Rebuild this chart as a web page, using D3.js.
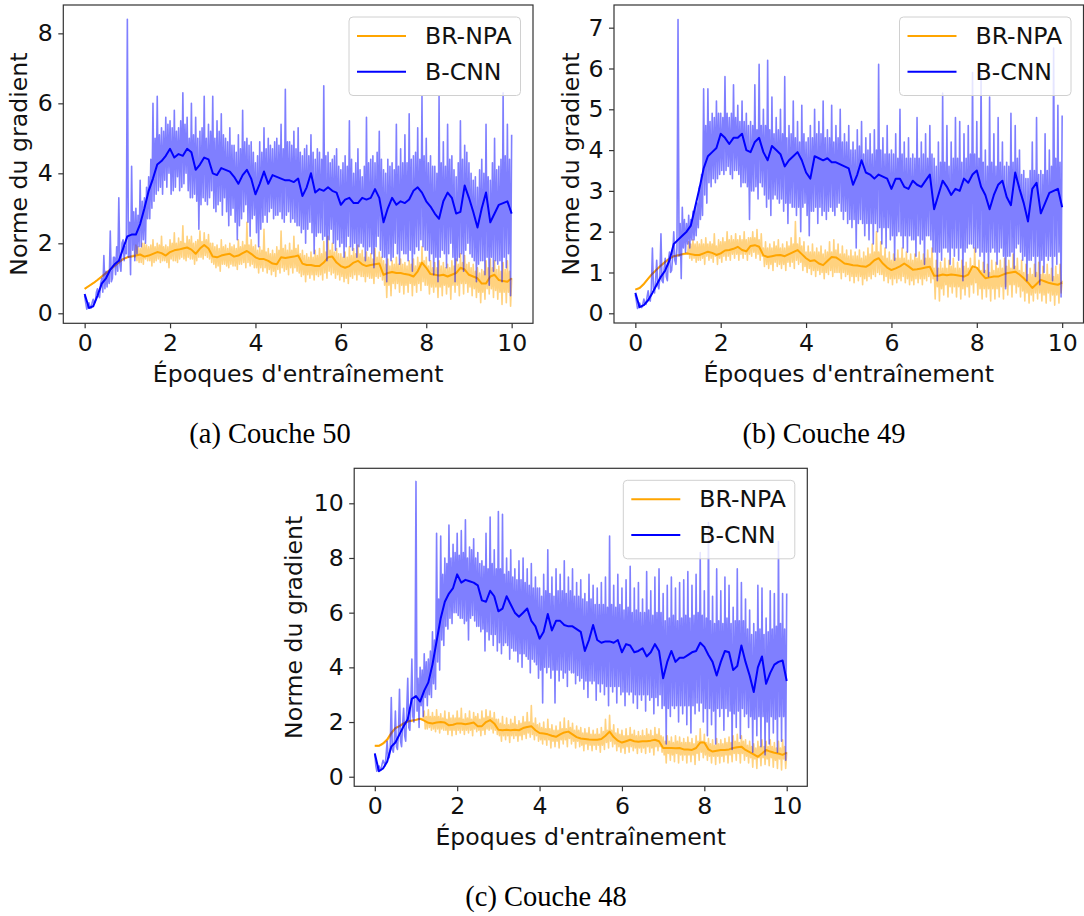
<!DOCTYPE html>
<html><head><meta charset="utf-8">
<script src="https://cdn.jsdelivr.net/npm/d3@7/dist/d3.min.js"></script>
<style>body{margin:0;background:#fff} svg{display:block}</style>
</head><body>
<svg id="chart" width="1084" height="916"></svg>
<script>
// ---------- tick labels / text ----------
const xTicks = [0, 2, 4, 6, 8, 10];
const yTicksA = [0, 2, 4, 6, 8];
const yTicksB = [0, 1, 2, 3, 4, 5, 6, 7];
const yTicksC = [0, 2, 4, 6, 8, 10];
const seriesNames = ["BR-NPA", "B-CNN"];
const captions = ["(a) Couche 50", "(b) Couche 49", "(c) Couche 48"];
const xLabel = "Époques d'entraînement";
const yLabel = "Norme du gradient";

// ---------- Panel (a) : Couche 50 (raw: 401 samples over 10 epochs, smoothed: 101) ----------
const rawBRNPA_a = [
 0.7,0.72,0.74,0.76,0.78,0.8,0.82,0.84,0.86,0.88,0.9,0.93,0.95,0.98,1.0,1.03,1.05,1.08,1.1,1.13,
 1.15,1.18,1.2,1.23,1.25,1.28,1.3,1.33,1.35,1.38,1.4,1.43,1.45,1.48,1.5,1.53,1.55,1.57,1.58,1.59,
 1.6,1.61,1.62,1.63,1.64,1.65,1.66,1.6,1.95,1.5,1.9,1.45,1.85,1.45,2.0,1.4,2.0,1.55,1.95,1.5,
 1.9,1.5,1.95,1.35,2.1,1.45,1.9,1.5,2.0,1.55,1.95,1.45,2.2,1.5,1.9,1.5,1.95,1.45,1.9,1.3,
 2.1,1.55,2.0,1.5,2.3,1.5,2.0,1.45,2.15,1.55,2.05,1.6,2.5,1.55,2.0,1.5,2.2,1.6,2.1,1.55,
 2.2,1.55,2.0,1.4,2.05,1.5,2.1,1.6,2.35,1.6,2.05,1.55,2.3,1.65,2.1,1.6,2.25,1.55,2.0,1.45,
 2.0,1.4,1.9,1.3,1.95,1.35,1.85,1.2,2.1,1.4,1.9,1.4,1.95,1.35,1.85,1.3,2.0,1.4,1.9,1.35,
 1.95,1.35,1.85,1.25,2.1,1.4,1.9,1.4,2.05,1.45,1.95,1.3,2.6,1.45,1.95,1.35,2.1,1.4,1.9,1.3,
 1.95,1.3,1.8,1.15,1.9,1.3,1.8,1.2,2.4,1.3,1.75,1.15,1.85,1.25,1.7,1.1,1.8,1.2,1.7,1.05,
 1.9,1.25,1.8,1.15,2.35,1.3,1.85,1.2,1.95,1.25,1.8,1.1,2.0,1.3,1.8,1.15,2.2,1.3,1.85,1.2,
 1.95,1.15,1.7,1.05,1.8,1.1,1.65,0.9,1.7,1.1,1.6,1.0,1.75,1.1,1.6,0.95,1.8,1.1,1.65,1.05,
 1.85,1.1,1.7,0.95,2.05,1.15,1.75,1.0,2.2,1.2,1.8,1.1,2.0,1.15,1.75,1.0,1.85,1.1,1.7,0.95,
 1.7,1.05,1.6,0.9,1.75,1.0,1.6,0.85,1.9,1.05,1.65,1.0,1.85,1.1,1.7,0.95,1.95,1.1,1.7,1.05,
 1.8,1.05,1.6,0.9,1.75,1.05,1.6,1.0,1.7,1.0,1.55,0.85,1.85,1.05,1.6,1.0,1.75,1.05,1.6,0.95,
 1.5,0.8,1.4,0.45,1.55,0.8,1.35,0.5,1.5,0.85,1.4,0.7,1.6,0.85,1.4,0.6,1.55,0.8,1.4,0.55,
 1.45,0.8,1.35,0.6,1.5,0.85,1.4,0.5,1.55,0.8,1.35,0.6,1.6,0.85,1.45,0.65,1.9,0.9,1.5,0.8,
 1.6,0.8,1.35,0.55,1.5,0.75,1.3,0.6,1.45,0.75,1.3,0.45,1.5,0.75,1.35,0.5,1.45,0.8,1.3,0.55,
 1.4,0.75,1.3,0.4,1.5,0.8,1.35,0.6,1.55,0.8,1.4,0.5,1.7,0.85,1.45,0.55,1.65,0.85,1.4,0.6,
 1.45,0.75,1.3,0.5,1.4,0.7,1.2,0.45,1.3,0.6,1.15,0.3,1.25,0.6,1.2,0.4,1.5,0.7,1.3,0.55,
 1.55,0.7,1.3,0.45,1.5,0.65,1.25,0.4,1.35,0.6,1.2,0.25,1.45,0.6,1.25,0.3,1.5,0.6,1.2,0.2,
 1.0];
const smoothBRNPA_a = [0.7,0.78,0.86,0.95,1.05,1.15,1.25,1.35,1.45,1.55,
 1.6,1.62,1.65,1.68,1.62,1.65,1.7,1.75,1.72,1.65,
 1.75,1.8,1.82,1.85,1.88,1.82,1.7,1.85,1.95,1.85,
 1.62,1.6,1.65,1.68,1.7,1.62,1.65,1.72,1.78,1.7,
 1.6,1.55,1.55,1.5,1.42,1.4,1.6,1.58,1.6,1.62,
 1.65,1.42,1.38,1.38,1.35,1.35,1.45,1.6,1.62,1.45,
 1.35,1.3,1.35,1.45,1.5,1.4,1.35,1.38,1.4,1.42,
 1.1,1.15,1.18,1.15,1.15,1.12,1.1,1.05,1.2,1.45,
 1.3,1.12,1.1,1.08,1.1,1.05,1.1,1.15,1.3,1.25,
 1.1,1.05,1.0,0.85,0.85,1.05,1.1,0.95,0.92,0.9,
 1.0];
const rawBCNN_a = [
 0.5,0.3,0.12,0.18,0.3,0.2,0.15,0.3,0.4,0.28,0.35,0.6,0.7,0.5,0.45,0.85,1.0,0.6,1.65,0.7,
 1.2,0.75,1.2,0.85,2.35,0.9,1.0,1.6,1.6,1.1,1.9,1.2,3.3,1.4,1.2,2.0,2.1,1.5,1.9,1.7,
 8.4,1.6,2.6,1.1,4.2,1.8,2.9,1.5,3.0,1.7,2.8,1.9,3.8,1.9,3.2,2.1,3.3,2.0,3.6,2.7,
 3.9,2.7,4.4,3.0,6.0,3.2,5.0,3.4,6.2,3.5,5.1,3.6,5.3,3.4,5.2,3.8,5.6,3.6,5.4,4.0,
 5.5,3.4,5.3,3.5,5.8,3.6,5.2,3.9,5.3,3.5,5.5,3.6,6.3,3.7,5.4,4.0,5.6,3.5,5.0,3.3,
 6.0,3.3,5.1,3.4,5.6,3.2,5.0,2.4,5.2,3.1,5.3,3.3,6.2,3.2,5.0,3.1,5.4,3.3,5.2,3.5,
 6.2,3.0,5.0,2.9,5.5,3.1,5.2,3.2,5.7,2.8,5.1,3.3,5.0,2.9,4.9,2.5,5.3,2.8,4.8,3.0,
 4.8,2.6,4.6,2.1,5.1,2.5,4.7,2.7,5.8,2.9,4.9,3.1,5.0,2.6,4.8,2.2,4.9,2.7,4.6,2.8,
 4.3,2.3,4.5,1.9,4.9,2.4,4.6,2.6,5.3,2.8,4.7,2.6,5.0,2.9,4.8,3.0,4.7,2.7,4.9,2.8,
 5.0,2.8,4.8,2.9,5.4,2.7,4.7,2.6,6.4,2.8,4.9,2.9,4.9,2.6,4.8,2.7,5.2,2.6,4.7,2.5,
 5.3,2.5,4.6,2.3,4.5,2.4,4.7,2.0,4.8,2.4,4.5,2.6,5.1,2.3,4.6,1.7,4.4,2.2,4.7,2.3,
 4.6,2.3,4.4,2.1,6.5,2.2,4.5,1.5,4.6,2.1,4.3,2.4,4.4,2.0,4.5,1.8,4.7,2.1,4.2,1.9,
 4.1,2.0,4.3,1.6,4.5,1.9,4.2,2.2,5.5,1.9,4.4,1.8,4.0,2.0,4.3,1.6,4.7,1.9,4.1,2.0,
 3.9,1.9,4.2,1.5,5.6,1.8,4.3,1.9,4.4,1.7,4.5,1.3,4.3,1.9,4.6,2.2,5.2,1.8,4.4,1.6,
 4.1,1.6,4.0,0.9,4.4,1.7,4.2,1.5,4.3,1.6,4.1,2.0,5.4,1.7,4.2,1.4,4.7,1.8,4.3,1.7,
 5.1,1.7,4.3,1.5,5.7,1.8,4.4,1.2,4.5,1.7,4.6,1.9,5.3,1.8,4.4,2.1,6.2,1.9,4.5,1.8,
 5.0,1.8,4.3,1.5,4.5,1.7,4.2,1.1,4.2,1.6,4.0,0.9,6.2,1.6,4.3,1.8,4.9,1.7,4.2,1.3,
 5.4,1.7,4.4,2.0,4.5,1.6,4.1,0.9,3.9,1.5,4.3,1.6,5.5,1.7,4.4,1.2,4.8,1.8,4.6,2.0,
 4.3,1.7,4.0,1.6,3.8,1.5,3.9,0.9,3.6,1.4,4.1,1.5,4.4,1.5,4.0,1.1,5.4,1.6,3.9,0.8,
 3.8,1.6,4.3,1.2,5.0,1.5,4.1,1.4,4.2,1.5,4.4,0.9,6.3,1.6,4.5,1.3,5.4,1.7,4.4,0.5,
 5.1];
const smoothBCNN_a = [0.55,0.15,0.2,0.5,0.85,1.0,1.25,1.4,1.5,1.85,
 2.2,2.25,2.25,2.55,3.0,3.5,3.85,4.25,4.35,4.5,
 4.7,4.45,4.55,4.5,4.7,4.6,4.1,4.25,4.45,4.4,
 4.0,3.95,4.15,4.1,4.05,3.9,3.7,3.95,4.1,3.85,
 3.4,3.7,4.05,3.7,3.95,3.9,3.85,3.8,3.8,3.75,
 3.85,3.35,3.6,4.0,3.45,3.55,3.5,3.6,3.5,3.45,
 3.1,3.25,3.3,3.15,3.15,3.3,3.25,3.3,3.55,3.3,
 2.6,3.0,3.3,3.1,3.2,3.15,3.25,3.5,3.6,3.45,
 3.2,3.05,2.85,2.7,3.2,3.45,3.3,2.85,2.9,3.65,
 3.3,2.9,2.45,3.0,3.45,2.6,2.85,3.1,3.15,3.2,
 2.85];

// ---------- Panel (b) : Couche 49 ----------
const rawBRNPA_b = [
 0.58,0.59,0.6,0.61,0.62,0.64,0.67,0.7,0.72,0.75,0.78,0.81,0.85,0.88,0.91,0.94,0.97,1.0,1.02,1.05,
 1.07,1.1,1.12,1.15,1.17,1.2,1.22,1.24,1.26,1.28,1.3,1.32,1.34,1.36,1.37,1.39,1.4,1.4,1.41,1.41,
 1.42,1.42,1.43,1.43,1.44,1.44,1.45,1.45,1.46,1.45,1.75,1.35,1.7,1.3,1.8,1.35,1.7,1.25,1.75,1.3,
 1.7,1.3,1.8,1.35,1.7,1.2,1.85,1.4,1.7,1.3,1.75,1.35,1.7,1.25,1.95,1.4,1.65,1.2,1.8,1.35,
 1.75,1.25,1.85,1.4,1.75,1.3,2.0,1.4,1.8,1.3,1.9,1.45,1.8,1.35,1.95,1.45,1.8,1.3,1.9,1.45,
 1.8,1.35,2.0,1.45,1.8,1.3,1.85,1.45,1.85,1.4,2.0,1.5,1.85,1.35,2.05,1.45,1.8,1.3,1.95,1.4,
 1.6,1.15,1.75,1.2,1.6,1.1,1.7,1.2,1.6,1.05,1.75,1.25,1.65,1.15,1.8,1.2,1.6,1.1,1.7,1.2,
 1.6,1.05,1.75,1.25,1.65,1.15,1.85,1.25,1.7,1.1,2.25,1.3,1.7,1.2,1.85,1.25,1.65,1.05,1.75,1.15,
 1.5,1.0,1.65,1.1,1.5,0.95,1.7,1.05,1.5,0.9,1.6,1.05,1.5,0.95,1.65,1.0,1.45,0.85,1.55,1.0,
 1.5,0.95,1.75,1.05,1.5,0.9,1.8,1.0,1.55,1.0,1.7,1.0,1.45,0.85,1.65,1.0,1.45,0.9,1.55,0.95,
 1.4,0.8,1.55,0.9,1.4,0.75,1.5,0.9,1.4,0.8,1.55,0.9,1.35,0.7,1.5,0.85,1.4,0.8,1.6,0.9,
 1.45,0.85,1.7,0.95,1.5,0.9,2.0,1.0,1.5,0.95,1.75,0.95,1.4,0.8,1.6,0.9,1.35,0.75,1.5,0.85,
 1.3,0.7,1.45,0.85,1.35,0.75,1.55,0.85,1.35,0.8,1.6,0.9,1.35,0.75,1.5,0.85,1.3,0.7,1.45,0.8,
 1.3,0.7,1.45,0.85,1.35,0.75,1.5,0.85,1.3,0.7,1.45,0.85,1.35,0.8,1.55,0.9,1.35,0.75,1.6,0.85,
 1.1,0.35,1.3,0.65,1.1,0.3,1.25,0.6,1.1,0.45,1.35,0.7,1.1,0.4,1.3,0.65,1.15,0.5,1.35,0.65,
 1.1,0.4,1.25,0.65,1.1,0.35,1.3,0.6,1.15,0.45,1.25,0.65,1.1,0.4,1.35,0.7,1.15,0.5,1.6,0.75,
 1.1,0.45,1.3,0.6,1.05,0.35,1.25,0.6,1.05,0.4,1.2,0.6,1.0,0.3,1.3,0.6,1.05,0.35,1.25,0.6,
 1.1,0.4,1.3,0.65,1.1,0.35,1.35,0.65,1.15,0.45,1.3,0.7,1.1,0.4,1.45,0.7,1.15,0.5,1.35,0.65,
 1.05,0.4,1.3,0.55,1.0,0.3,1.2,0.5,0.95,0.25,1.1,0.45,0.95,0.3,1.2,0.5,1.0,0.35,1.25,0.5,
 0.95,0.3,1.15,0.45,0.95,0.25,1.2,0.5,0.95,0.3,1.1,0.45,0.9,0.2,1.15,0.45,0.95,0.25,1.2,0.5,
 0.8];
const smoothBRNPA_b = [0.58,0.62,0.72,0.85,0.97,1.07,1.17,1.26,1.34,1.4,
 1.42,1.45,1.47,1.45,1.43,1.43,1.47,1.51,1.48,1.43,
 1.47,1.54,1.55,1.58,1.63,1.55,1.52,1.65,1.67,1.63,
 1.42,1.38,1.4,1.42,1.43,1.4,1.45,1.5,1.55,1.45,
 1.35,1.28,1.3,1.22,1.18,1.28,1.38,1.37,1.3,1.22,
 1.2,1.18,1.17,1.15,1.14,1.2,1.3,1.35,1.22,1.12,
 1.06,1.1,1.15,1.22,1.15,1.07,1.08,1.1,1.12,1.14,
 0.92,0.92,0.95,0.93,0.95,0.94,0.92,0.9,0.95,1.15,
 1.12,0.98,0.86,0.88,0.9,0.9,0.94,0.98,1.0,1.02,
 0.95,0.86,0.75,0.62,0.72,0.82,0.78,0.74,0.72,0.7,
 0.75];
const rawBCNN_b = [
 0.45,0.3,0.12,0.15,0.25,0.18,0.14,0.22,0.35,0.25,0.22,0.4,0.55,0.35,0.3,0.6,1.6,0.6,0.5,0.8,
 1.3,0.7,0.6,0.9,1.95,0.8,0.75,1.1,1.35,0.9,0.8,1.3,1.5,1.0,1.05,1.4,2.0,1.3,1.2,1.6,
 7.2,1.4,2.2,0.85,2.6,1.6,2.3,1.5,2.2,1.7,2.4,1.6,2.3,1.8,2.5,1.8,2.6,1.9,2.7,2.1,
 3.1,2.3,3.4,2.4,5.5,2.9,4.6,2.7,5.5,3.2,4.7,3.1,4.9,3.3,4.8,3.2,5.2,3.3,4.9,3.4,
 4.9,3.5,4.8,3.4,5.8,3.5,4.9,3.6,4.8,3.4,4.9,3.3,5.6,3.5,4.8,3.5,5.1,3.4,4.7,3.1,
 5.2,3.2,4.7,3.2,4.9,3.1,4.6,2.3,4.7,3.0,4.6,3.0,5.6,3.1,4.5,2.8,6.1,3.2,4.6,3.1,
 5.0,2.9,4.6,2.6,6.2,2.8,4.5,2.4,5.3,2.8,4.4,2.9,4.8,2.8,4.5,2.7,5.0,2.8,4.4,2.5,
 5.8,2.7,4.3,2.2,4.6,2.7,4.4,2.6,5.2,2.6,4.3,2.4,4.7,2.6,4.2,2.0,5.1,2.6,4.4,2.7,
 4.2,2.4,4.3,1.9,4.6,2.5,4.3,2.5,5.0,2.6,4.4,2.2,4.7,2.6,4.4,2.4,5.2,2.5,4.3,2.3,
 4.5,2.5,4.3,2.6,5.1,2.5,4.2,2.4,4.6,2.6,4.3,2.7,5.0,2.5,4.2,2.3,4.4,2.5,4.2,2.2,
 4.6,2.3,4.0,2.1,4.2,2.3,4.0,1.6,4.5,2.2,4.1,2.3,4.7,2.2,3.9,1.9,4.3,2.2,4.0,1.8,
 4.4,2.2,3.9,1.7,4.5,2.2,4.0,2.0,6.1,2.1,4.0,1.7,4.3,2.1,3.9,1.6,4.6,2.1,3.9,1.8,
 4.0,1.9,3.9,1.3,4.4,1.9,3.8,2.0,5.0,1.9,3.9,1.6,4.2,1.9,3.8,1.5,4.3,1.9,3.8,1.8,
 3.9,1.8,3.8,1.4,4.8,1.9,3.8,1.7,4.2,1.8,3.9,1.2,4.4,1.9,3.8,1.9,4.6,1.8,3.9,1.5,
 3.8,1.5,3.6,0.8,4.2,1.5,3.7,1.3,5.4,1.6,3.7,1.6,4.6,1.5,3.6,1.2,4.2,1.6,3.8,1.4,
 4.8,1.6,3.8,1.3,4.7,1.6,3.7,0.8,4.4,1.5,3.8,1.6,4.6,1.7,3.9,1.7,5.9,1.6,3.9,1.5,
 4.7,1.6,3.8,1.4,5.85,1.5,3.7,1.0,4.0,1.5,3.6,0.9,5.3,1.5,3.7,1.6,4.4,1.5,3.6,1.2,
 4.8,1.5,3.7,1.6,4.2,1.4,3.6,0.6,3.7,1.4,3.6,1.4,4.9,1.5,3.7,1.1,4.6,1.6,3.8,1.7,
 4.0,1.5,3.4,1.3,3.5,1.4,3.3,0.8,3.3,1.3,3.5,1.3,4.2,1.4,3.5,0.9,4.8,1.4,3.4,0.7,
 3.5,1.3,3.4,1.0,4.4,1.4,3.5,1.3,4.0,1.4,3.6,0.8,6.5,1.4,3.8,1.2,5.1,1.5,3.7,0.4,
 4.85];
const smoothBCNN_b = [0.5,0.15,0.2,0.32,0.5,0.7,0.9,1.05,1.3,1.7,
 1.8,1.9,2.0,2.15,2.6,3.05,3.55,3.85,3.95,4.05,
 4.4,4.3,4.15,4.3,4.3,4.4,4.0,3.95,4.2,4.3,
 3.95,3.75,4.1,4.0,3.9,3.6,3.75,3.85,3.95,3.75,
 3.45,3.3,3.85,3.8,3.75,3.8,3.7,3.7,3.65,3.6,
 3.55,3.15,3.4,3.75,3.45,3.4,3.3,3.4,3.35,3.3,
 3.05,3.3,3.3,3.1,3.05,3.25,3.15,3.1,3.25,3.4,
 2.55,2.9,3.25,3.1,2.9,3.05,3.0,3.3,3.2,3.4,
 3.5,3.1,2.9,2.55,2.9,3.15,3.25,2.85,2.65,3.45,
 3.05,2.7,2.25,3.05,3.2,2.45,2.7,2.95,3.0,3.05,
 2.6];

// ---------- Panel (c) : Couche 48 ----------
const rawBRNPA_c = [
 1.13,1.13,1.12,1.12,1.13,1.14,1.15,1.17,1.2,1.22,1.25,1.29,1.33,1.37,1.42,1.48,1.55,1.61,1.68,1.73,
 1.78,1.8,1.82,1.84,1.86,1.88,1.9,1.93,1.95,1.97,1.98,2.0,2.02,2.04,2.05,2.06,2.06,2.07,2.07,2.08,
 2.08,2.09,2.1,2.11,2.12,2.12,2.13,2.1,2.4,1.75,2.2,1.75,2.45,1.8,2.2,1.7,2.35,1.75,2.2,1.65,
 2.45,1.75,2.2,1.6,2.3,1.75,2.15,1.7,2.4,1.7,2.1,1.55,2.35,1.7,2.15,1.5,2.25,1.7,2.15,1.55,
 2.4,1.7,2.15,1.6,2.5,1.7,2.1,1.55,2.3,1.7,2.15,1.6,2.4,1.7,2.1,1.5,2.35,1.75,2.2,1.65,
 2.3,1.7,2.1,1.5,2.4,1.7,2.15,1.55,2.45,1.75,2.2,1.7,2.4,1.75,2.15,1.6,2.35,1.7,2.1,1.55,
 2.1,1.5,1.95,1.3,2.2,1.5,1.9,1.35,2.15,1.5,1.9,1.25,2.1,1.5,1.95,1.4,2.2,1.5,1.9,1.3,
 2.05,1.5,1.95,1.35,2.2,1.55,2.0,1.4,2.35,1.6,2.0,1.45,2.6,1.55,1.95,1.35,2.15,1.5,1.9,1.3,
 1.95,1.35,1.8,1.2,2.0,1.35,1.75,1.15,2.1,1.35,1.75,1.05,1.9,1.3,1.7,1.1,1.85,1.3,1.7,1.05,
 2.0,1.35,1.75,1.2,2.15,1.35,1.75,1.1,2.05,1.4,1.8,1.2,1.95,1.3,1.7,1.05,1.85,1.3,1.7,1.1,
 1.8,1.15,1.6,0.95,1.75,1.2,1.6,1.0,1.8,1.15,1.55,0.95,1.7,1.15,1.55,1.0,1.75,1.15,1.55,0.9,
 1.8,1.15,1.65,1.0,2.1,1.25,1.7,1.05,2.25,1.3,1.7,1.1,1.9,1.2,1.6,0.95,1.75,1.1,1.55,0.9,
 1.7,1.05,1.5,0.85,1.75,1.1,1.5,0.9,1.8,1.1,1.55,0.95,1.7,1.05,1.5,0.85,1.65,1.05,1.5,0.9,
 1.7,1.05,1.5,0.85,1.75,1.1,1.55,0.9,1.7,1.05,1.5,0.8,1.8,1.1,1.55,0.95,1.75,1.1,1.5,0.9,
 1.45,0.8,1.3,0.5,1.5,0.85,1.3,0.6,1.45,0.8,1.25,0.55,1.5,0.85,1.3,0.5,1.45,0.8,1.25,0.6,
 1.4,0.8,1.25,0.5,1.45,0.8,1.25,0.55,1.4,0.8,1.2,0.45,1.5,0.85,1.3,0.6,1.75,0.9,1.3,0.7,
 1.55,0.8,1.25,0.6,1.4,0.75,1.2,0.5,1.35,0.75,1.15,0.45,1.4,0.75,1.2,0.5,1.35,0.75,1.2,0.55,
 1.4,0.8,1.25,0.5,1.45,0.8,1.25,0.55,1.5,0.85,1.3,0.6,1.55,0.85,1.25,0.5,1.5,0.85,1.3,0.6,
 1.35,0.75,1.15,0.5,1.3,0.7,1.1,0.35,1.2,0.65,1.05,0.3,1.3,0.7,1.1,0.4,1.35,0.7,1.1,0.45,
 1.3,0.65,1.1,0.4,1.35,0.7,1.1,0.35,1.25,0.6,1.05,0.3,1.3,0.65,1.05,0.25,1.35,0.65,1.1,0.3,
 0.9];
const smoothBRNPA_c = [1.13,1.13,1.22,1.36,1.6,1.78,1.85,1.95,2.02,2.05,
 2.08,2.12,2.05,1.97,1.95,1.98,2.0,1.98,1.88,1.9,
 1.95,1.95,1.92,1.95,1.98,1.85,1.85,2.0,2.07,1.95,
 1.72,1.7,1.72,1.7,1.72,1.7,1.78,1.82,1.85,1.7,
 1.6,1.58,1.55,1.5,1.46,1.55,1.62,1.65,1.55,1.45,
 1.4,1.38,1.36,1.35,1.35,1.38,1.5,1.65,1.45,1.32,
 1.25,1.3,1.35,1.3,1.28,1.3,1.3,1.32,1.35,1.3,
 1.05,1.05,1.05,1.04,1.05,1.0,1.0,0.98,1.05,1.25,
 1.25,1.0,0.92,0.95,0.98,0.98,1.0,1.05,1.08,1.1,
 0.98,0.9,0.82,0.73,0.85,0.98,0.92,0.88,0.85,0.8,
 0.88];
const rawBCNN_c = [
 0.85,0.4,0.2,0.3,0.4,0.3,0.25,0.45,0.6,0.5,0.4,0.8,1.3,0.7,0.7,1.1,2.9,1.0,0.9,1.3,
 2.4,1.1,1.0,1.6,3.2,1.3,1.1,1.9,2.5,1.5,1.3,2.4,3.6,1.8,1.7,2.6,4.3,2.2,2.0,3.0,
 10.8,2.4,3.6,1.8,4.0,2.6,3.9,2.2,4.5,2.9,4.2,2.6,4.3,3.0,4.6,2.9,5.3,3.4,5.0,3.2,
 8.9,4.2,6.5,3.9,8.8,5.0,7.4,4.8,8.0,5.5,7.8,5.4,9.2,5.8,8.0,5.6,8.5,6.0,8.2,6.0,
 8.9,5.9,8.1,5.8,9.0,5.8,8.2,5.6,9.4,5.7,8.0,5.0,8.4,5.8,8.3,5.9,8.7,5.7,8.0,5.5,
 8.2,5.5,7.8,5.3,7.9,5.4,7.7,4.6,8.9,5.3,7.6,5.0,9.5,5.2,7.8,4.8,8.3,5.2,7.6,4.6,
 9.7,4.9,7.6,4.5,9.6,4.8,7.4,4.9,8.0,4.8,7.5,4.3,8.3,4.7,7.3,4.6,7.6,4.6,7.2,4.2,
 7.9,4.5,7.2,4.0,8.0,4.5,7.1,4.4,7.6,4.3,7.0,3.8,7.8,4.3,6.9,4.2,7.3,4.1,6.9,3.6,
 6.9,3.9,6.6,2.7,7.4,4.0,6.8,3.8,8.3,4.0,6.7,3.6,7.3,3.9,6.6,2.7,7.6,3.9,6.8,3.5,
 7.4,3.9,6.8,3.6,7.9,3.8,6.7,3.3,7.3,3.9,6.8,3.8,7.6,3.8,6.6,3.4,7.1,3.7,6.6,3.5,
 7.2,3.6,6.5,3.2,6.7,3.5,6.4,2.9,7.4,3.5,6.5,3.4,7.0,3.5,6.3,2.8,6.9,3.4,6.3,3.1,
 7.1,3.4,6.3,3.0,7.3,3.3,6.2,2.6,8.8,3.3,6.3,3.1,7.0,3.3,6.2,2.7,7.4,3.3,6.3,3.0,
 6.9,3.1,6.1,2.6,7.2,3.1,6.2,3.0,7.7,3.1,6.0,2.7,6.9,3.0,6.1,2.5,7.1,3.0,6.0,2.8,
 6.5,3.0,6.0,2.4,7.5,3.0,6.1,2.8,6.8,2.9,5.9,2.3,7.3,2.9,6.0,2.6,7.6,3.0,6.0,2.5,
 6.7,2.6,5.7,1.2,7.0,2.5,5.8,2.2,7.3,2.6,5.9,2.5,6.9,2.6,5.7,2.0,7.1,2.6,5.8,2.3,
 7.2,2.6,5.9,1.9,7.5,2.6,5.8,1.6,7.0,2.6,5.9,2.3,7.4,2.7,6.0,2.4,8.2,2.7,5.9,2.0,
 6.8,2.5,5.8,1.5,9.3,2.5,5.7,1.9,6.6,2.4,5.6,1.2,7.6,2.5,5.7,2.2,6.8,2.5,5.6,1.7,
 7.3,2.5,5.8,2.2,7.0,2.4,5.6,1.0,6.2,2.3,5.7,1.8,7.6,2.4,5.7,1.4,7.1,2.5,5.7,2.2,
 6.5,2.3,5.4,1.8,6.1,2.2,5.2,0.9,5.6,2.1,5.3,1.5,7.0,2.2,5.4,1.1,6.9,2.2,5.2,0.8,
 5.8,2.0,5.3,1.2,6.8,2.2,5.4,1.6,6.7,2.1,5.5,0.9,8.6,2.2,5.6,1.3,6.7,2.2,5.4,0.6,
 6.7];
const smoothBCNN_c = [0.85,0.2,0.3,0.55,1.1,1.25,1.55,1.85,2.1,2.85,
 2.95,2.75,3.15,3.45,4.1,4.95,5.8,6.4,6.7,6.9,
 7.4,7.1,7.2,7.15,7.1,7.0,6.45,6.4,6.8,6.6,
 6.05,6.15,6.6,6.3,6.0,5.85,6.0,6.15,5.7,5.5,
 5.05,5.3,5.95,5.35,5.7,5.7,5.55,5.5,5.5,5.4,
 5.3,4.6,5.0,5.55,5.0,4.9,4.95,4.95,4.9,5.0,
 4.55,4.85,4.8,4.55,4.6,4.7,4.4,4.55,4.85,4.6,
 3.6,4.2,4.6,4.2,4.35,4.35,4.45,4.55,4.6,4.9,
 4.75,4.45,4.2,3.7,4.2,4.6,4.55,3.9,4.05,4.8,
 4.2,3.7,3.1,4.0,4.4,3.4,3.8,4.1,4.2,4.25,
 3.5];

// ---------- drawing ----------
const COLORS = ["#FFA500", "#0000FF"];
const SANS = "'DejaVu Sans', sans-serif";
const SERIF = "'Liberation Serif', 'Times New Roman', serif";
const FS = 23.6;
const svg = d3.select("#chart");

const panels = [
  { raw: [rawBRNPA_a, rawBCNN_a], smooth: [smoothBRNPA_a, smoothBCNN_a], yTicks: yTicksA,
    yDomain: [-0.286, 8.81], l: 63.3, r: 533, t: 5, b: 323.3, yLabX: 20.8,
    cap: captions[0], capX: 270, capY: 443 },
  { raw: [rawBRNPA_b, rawBCNN_b], smooth: [smoothBRNPA_b, smoothBCNN_b], yTicks: yTicksB,
    yDomain: [-0.238, 7.556], l: 614, r: 1083.5, t: 5, b: 323, yLabX: 573,
    cap: captions[1], capX: 824, capY: 443 },
  { raw: [rawBRNPA_c, rawBCNN_c], smooth: [smoothBRNPA_c, smoothBCNN_c], yTicks: yTicksC,
    yDomain: [-0.35, 11.28], l: 354.2, r: 807.3, t: 468.3, b: 786.3, yLabX: 296,
    cap: captions[2], capX: 546, capY: 906 }
];

function toPoints(arr) {
  const n = arr.length - 1;
  return arr.map((v, i) => ({ epoch: i * 10 / n, value: v }));
}

panels.forEach(p => {
  const x = d3.scaleLinear().domain([-0.5, 10.5]).range([p.l, p.r]);
  const y = d3.scaleLinear().domain(p.yDomain).range([p.b, p.t]);
  const line = d3.line().x(d => x(d.epoch)).y(d => y(d.value));
  const g = svg.append("g");

  // series: raw (alpha 0.5) then smoothed; BR-NPA first, then B-CNN
  [0, 1].forEach(k => {
    g.append("path").attr("d", line(toPoints(p.raw[k])))
      .attr("fill", "none").attr("stroke", COLORS[k]).attr("stroke-width", 1.6)
      .attr("stroke-linejoin", "round").attr("opacity", 0.5);
    g.append("path").attr("d", line(toPoints(p.smooth[k])))
      .attr("fill", "none").attr("stroke", COLORS[k]).attr("stroke-width", 2)
      .attr("stroke-linejoin", "round");
  });

  // frame
  g.append("rect").attr("x", p.l).attr("y", p.t).attr("width", p.r - p.l).attr("height", p.b - p.t)
    .attr("fill", "none").attr("stroke", "#333").attr("stroke-width", 1.2);

  // axes
  const ax = g.append("g").attr("transform", `translate(0,${p.b})`)
    .call(d3.axisBottom(x).tickValues(xTicks).tickFormat(d3.format("d")).tickSize(5).tickPadding(6).tickSizeOuter(0));
  const ay = g.append("g").attr("transform", `translate(${p.l},0)`)
    .call(d3.axisLeft(y).tickValues(p.yTicks).tickFormat(d3.format("d")).tickSize(5).tickPadding(5.5).tickSizeOuter(0));
  [ax, ay].forEach(a => {
    a.select(".domain").remove();
    a.selectAll("line").attr("stroke", "#333").attr("stroke-width", 1.2);
    a.selectAll("text").attr("font-family", SANS).attr("font-size", FS).attr("fill", "#111");
  });

  // axis labels
  g.append("text").attr("x", (p.l + p.r) / 2).attr("y", p.b + 59)
    .attr("text-anchor", "middle").attr("font-family", SANS).attr("font-size", FS).attr("fill", "#111")
    .text(xLabel);
  g.append("text").attr("transform", `translate(${p.yLabX + 6},${(p.t + p.b) / 2}) rotate(-90)`)
    .attr("text-anchor", "middle").attr("font-family", SANS).attr("font-size", FS).attr("fill", "#111")
    .text(yLabel);

  // legend
  const lx = p.r - 12.5 - 171.5, ly = p.t + 12;
  const lg = g.append("g").attr("transform", `translate(${lx},${ly})`);
  lg.append("rect").attr("width", 171.5).attr("height", 78.5).attr("rx", 4)
    .attr("fill", "#fff").attr("fill-opacity", 0.8).attr("stroke", "#d0d0d0").attr("stroke-width", 1);
  seriesNames.forEach((name, k) => {
    const yy = 19 + k * 35.8;
    lg.append("line").attr("x1", 8).attr("x2", 57).attr("y1", yy).attr("y2", yy)
      .attr("stroke", COLORS[k]).attr("stroke-width", 2);
    lg.append("text").attr("x", 76).attr("y", yy + 8)
      .attr("font-family", SANS).attr("font-size", FS).attr("fill", "#111").text(name);
  });

  // caption
  svg.append("text").attr("x", p.capX).attr("y", p.capY).attr("text-anchor", "middle")
    .attr("font-family", SERIF).attr("font-size", 28.5).attr("fill", "#000").text(p.cap);
});
</script>
</body></html>
